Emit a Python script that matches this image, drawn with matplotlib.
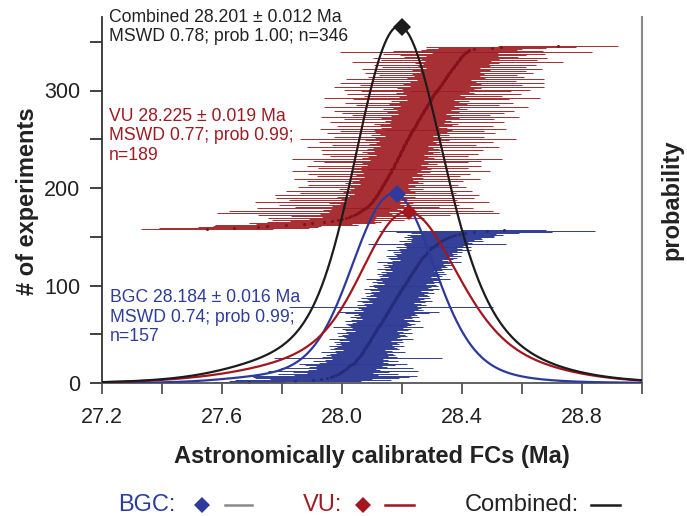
import numpy as np
import matplotlib
matplotlib.use("Agg")
import matplotlib.pyplot as plt

plt.rcParams['font.family'] = ['Liberation Sans', 'DejaVu Sans']

bgc_age = [27.690, 27.845, 27.902, 27.931, 27.950, 27.962, 27.971, 27.979, 27.986, 27.992,
           27.997, 28.002, 28.007, 28.012, 28.016, 28.020, 28.024, 28.028, 28.032, 28.036,
           28.039, 28.042, 28.045, 28.048, 28.051, 28.054, 28.057, 28.060, 28.062, 28.064,
           28.066, 28.069, 28.071, 28.073, 28.075, 28.077, 28.079, 28.081, 28.083, 28.086,
           28.088, 28.090, 28.092, 28.094, 28.096, 28.098, 28.100, 28.102, 28.104, 28.106,
           28.108, 28.110, 28.112, 28.114, 28.116, 28.118, 28.120, 28.122, 28.124, 28.126,
           28.128, 28.130, 28.132, 28.134, 28.136, 28.138, 28.140, 28.142, 28.144, 28.146,
           28.148, 28.150, 28.152, 28.154, 28.156, 28.158, 28.160, 28.162, 28.164, 28.166,
           28.168, 28.170, 28.172, 28.174, 28.176, 28.178, 28.180, 28.183, 28.185, 28.187,
           28.189, 28.191, 28.193, 28.195, 28.197, 28.199, 28.201, 28.203, 28.205, 28.207,
           28.209, 28.211, 28.213, 28.215, 28.217, 28.219, 28.221, 28.223, 28.225, 28.227,
           28.229, 28.231, 28.233, 28.236, 28.238, 28.240, 28.242, 28.244, 28.246, 28.249,
           28.251, 28.253, 28.256, 28.258, 28.260, 28.263, 28.265, 28.268, 28.270, 28.273,
           28.276, 28.279, 28.282, 28.285, 28.288, 28.291, 28.294, 28.297, 28.300, 28.304,
           28.308, 28.312, 28.316, 28.320, 28.325, 28.330, 28.336, 28.342, 28.349, 28.357,
           28.366, 28.377, 28.390, 28.410, 28.440, 28.482, 28.540]
bgc_err = [0.12, 0.22, 0.26, 0.17, 0.24, 0.26, 0.28, 0.14, 0.20, 0.11,
           0.16, 0.25, 0.12, 0.10, 0.22, 0.13, 0.11, 0.15, 0.09, 0.18,
           0.115, 0.095, 0.14, 0.105, 0.085, 0.28, 0.125, 0.095, 0.115, 0.105,
           0.085, 0.14, 0.095, 0.07, 0.115, 0.105, 0.095, 0.125, 0.085, 0.105,
           0.095, 0.115, 0.07, 0.105, 0.14, 0.085, 0.095, 0.115, 0.105, 0.085,
           0.125, 0.095, 0.07, 0.105, 0.115, 0.085, 0.15, 0.095, 0.105, 0.085,
           0.115, 0.095, 0.085, 0.125, 0.105, 0.07, 0.095, 0.115, 0.085, 0.105,
           0.095, 0.14, 0.17, 0.085, 0.115, 0.095, 0.105, 0.34, 0.085, 0.115,
           0.095, 0.07, 0.105, 0.125, 0.085, 0.095, 0.115, 0.07, 0.105, 0.095,
           0.085, 0.115, 0.095, 0.07, 0.105, 0.125, 0.085, 0.095, 0.115, 0.085,
           0.105, 0.07, 0.095, 0.115, 0.085, 0.105, 0.14, 0.095, 0.07, 0.105,
           0.095, 0.115, 0.085, 0.105, 0.07, 0.095, 0.125, 0.085, 0.105, 0.095,
           0.115, 0.085, 0.105, 0.14, 0.095, 0.07, 0.105, 0.115, 0.085, 0.125,
           0.095, 0.105, 0.085, 0.115, 0.095, 0.14, 0.105, 0.085, 0.115, 0.125,
           0.095, 0.105, 0.23, 0.115, 0.095, 0.14, 0.105, 0.125, 0.115, 0.15,
           0.14, 0.16, 0.125, 0.18, 0.26, 0.36, 0.14]

vu_age = [27.550, 27.640, 27.720, 27.750, 27.815, 27.875, 27.900, 27.940, 27.968, 27.988,
          28.000, 28.012, 28.022, 28.031, 28.039, 28.046, 28.052, 28.058, 28.063, 28.068,
          28.072, 28.076, 28.080, 28.084, 28.087, 28.090, 28.093, 28.096, 28.099, 28.102,
          28.105, 28.108, 28.110, 28.112, 28.115, 28.117, 28.119, 28.121, 28.123, 28.125,
          28.127, 28.129, 28.131, 28.133, 28.135, 28.137, 28.139, 28.141, 28.143, 28.145,
          28.147, 28.149, 28.151, 28.153, 28.155, 28.156, 28.158, 28.160, 28.162, 28.163,
          28.165, 28.167, 28.168, 28.170, 28.172, 28.173, 28.175, 28.177, 28.178, 28.180,
          28.182, 28.183, 28.185, 28.187, 28.188, 28.190, 28.192, 28.193, 28.195, 28.197,
          28.198, 28.200, 28.202, 28.203, 28.205, 28.207, 28.208, 28.210, 28.212, 28.214,
          28.215, 28.217, 28.219, 28.221, 28.222, 28.224, 28.226, 28.228, 28.229, 28.231,
          28.233, 28.235, 28.237, 28.238, 28.240, 28.242, 28.244, 28.246, 28.247, 28.249,
          28.251, 28.253, 28.255, 28.257, 28.259, 28.261, 28.263, 28.265, 28.267, 28.269,
          28.271, 28.273, 28.275, 28.277, 28.279, 28.281, 28.283, 28.285, 28.287, 28.289,
          28.291, 28.293, 28.295, 28.297, 28.299, 28.301, 28.303, 28.305, 28.308, 28.310,
          28.312, 28.314, 28.316, 28.318, 28.321, 28.323, 28.325, 28.327, 28.330, 28.332,
          28.334, 28.336, 28.339, 28.341, 28.343, 28.346, 28.348, 28.350, 28.353, 28.355,
          28.357, 28.360, 28.362, 28.365, 28.367, 28.370, 28.372, 28.375, 28.377, 28.380,
          28.382, 28.385, 28.387, 28.390, 28.392, 28.395, 28.397, 28.400, 28.403, 28.406,
          28.409, 28.412, 28.416, 28.420, 28.425, 28.440, 28.500, 28.530, 28.720]
vu_err = [0.22, 0.25, 0.20, 0.18, 0.24, 0.16, 0.21, 0.19, 0.14, 0.22,
          0.11, 0.26, 0.09, 0.20, 0.32, 0.12, 0.47, 0.10, 0.44, 0.13,
          0.11, 0.36, 0.08, 0.24, 0.12, 0.30, 0.10, 0.14, 0.39, 0.09,
          0.28, 0.11, 0.33, 0.13, 0.09, 0.34, 0.08, 0.26, 0.12, 0.31,
          0.10, 0.14, 0.09, 0.28, 0.11, 0.25, 0.08, 0.13, 0.11, 0.26,
          0.09, 0.31, 0.12, 0.08, 0.24, 0.11, 0.27, 0.09, 0.13, 0.33,
          0.10, 0.13, 0.08, 0.25, 0.11, 0.29, 0.09, 0.14, 0.11, 0.24,
          0.28, 0.09, 0.35, 0.12, 0.10, 0.23, 0.08, 0.26, 0.11, 0.13,
          0.09, 0.27, 0.12, 0.10, 0.32, 0.08, 0.24, 0.12, 0.10, 0.29,
          0.09, 0.14, 0.36, 0.11, 0.25, 0.08, 0.13, 0.10, 0.28, 0.12,
          0.24, 0.09, 0.13, 0.31, 0.11, 0.08, 0.26, 0.12, 0.14, 0.09,
          0.29, 0.11, 0.09, 0.25, 0.13, 0.33, 0.10, 0.23, 0.08, 0.27,
          0.12, 0.30, 0.09, 0.14, 0.11, 0.34, 0.09, 0.24, 0.13, 0.28,
          0.10, 0.13, 0.08, 0.26, 0.36, 0.11, 0.23, 0.09, 0.29, 0.13,
          0.11, 0.25, 0.09, 0.31, 0.12, 0.14, 0.35, 0.10, 0.27, 0.13,
          0.34, 0.11, 0.24, 0.09, 0.33, 0.13, 0.26, 0.11, 0.23, 0.12,
          0.28, 0.10, 0.25, 0.13, 0.30, 0.09, 0.24, 0.12, 0.27, 0.11,
          0.14, 0.35, 0.11, 0.26, 0.13, 0.29, 0.19, 0.12, 0.21, 0.27,
          0.11, 0.42, 0.17, 0.25, 0.16, 0.16, 0.18, 0.25, 0.20]

# weighted means from the panel texts
labs = ['BGC', 'VU', 'Combined']
mean_age = [28.184, 28.225, 28.201]
mean_err = [0.016, 0.019, 0.012]
mswd = [0.74, 0.77, 0.78]
prob = [0.99, 0.99, 1.00]
n_exp = [157, 189, 346]

x_ticks = [27.2, 27.4, 27.6, 27.8, 28.0, 28.2, 28.4, 28.6, 28.8, 29.0]
x_ticklabels = ['27.2', '', '27.6', '', '28.0', '', '28.4', '', '28.8', '']
y_ticks = [0, 50, 100, 150, 200, 250, 300, 350]
y_ticklabels = ['0', '', '100', '', '200', '', '300', '']

BLUE = '#2e3b94'
BLUE_DOT = '#232d7c'
RED = '#9e1b21'
RED_DOT = '#85121a'
BLACK = '#1c1c1c'

W, H = 687, 516


def fx(px):
    return px / W


def fy(py):
    return 1 - py / H


def pdf(ages, errs, x):
    a = np.asarray(ages)[:, None]
    s = np.asarray(errs)[:, None]
    return (np.exp(-0.5 * ((x - a) / s) ** 2) / (s * np.sqrt(2 * np.pi))).sum(axis=0)


fig = plt.figure(figsize=(W / 100, H / 100), dpi=100)
ax = fig.add_axes([fx(102), fy(383), fx(540), 366 / H])

# ranked single experiments
rank_bgc = np.arange(1, len(bgc_age) + 1)
rank_vu = np.arange(len(bgc_age) + 1, len(bgc_age) + len(vu_age) + 1)
ba, be = np.array(bgc_age), np.array(bgc_err)
va, ve = np.array(vu_age), np.array(vu_err)
ax.hlines(rank_bgc, ba - be, ba + be, color=BLUE, lw=0.7)
ax.hlines(rank_vu, va - ve, va + ve, color=RED, lw=0.65)
ax.plot(ba, rank_bgc, 'o', ms=2.2, color=BLUE_DOT, mew=0)
ax.plot(va, rank_vu, 'o', ms=2.2, color=RED_DOT, mew=0)

ax.set_xlim(27.2, 29.0)
ax.set_ylim(0, 366 / 0.975)
ax.set_xticks(x_ticks)
ax.set_xticklabels(x_ticklabels)
ax.set_yticks(y_ticks)
ax.set_yticklabels(y_ticklabels)
ax.tick_params(axis='y', direction='out', length=8.5, width=1.3, color='#333333',
               pad=7, labelsize=15.5, labelcolor='#222222')
ax.tick_params(axis='x', direction='out', length=8, width=1.3, color='#555555',
               pad=9, labelsize=15.5, labelcolor='#222222')
ax.spines['top'].set_visible(False)
ax.spines['left'].set_color('#333333')
ax.spines['left'].set_linewidth(1.3)
ax.spines['bottom'].set_color('#555555')
ax.spines['bottom'].set_linewidth(1.3)
ax.spines['right'].set_color('#8a8a8a')
ax.spines['right'].set_linewidth(1.5)

# probability density curves
ax2 = ax.twinx()
xs = np.linspace(27.2, 29.0, 900)
p_bgc = pdf(bgc_age, bgc_err, xs)
p_vu = pdf(vu_age, vu_err, xs)
p_all = p_bgc + p_vu
ax2.plot(xs, p_bgc, color='#2b3a9e', lw=1.6)
ax2.plot(xs, p_vu, color='#a3161d', lw=1.6)
ax2.plot(xs, p_all, color=BLACK, lw=1.6)
for m, p, c, s in zip(mean_age, [p_bgc, p_vu, p_all], ['#2e3b9c', '#a3161d', BLACK], [9, 8, 9]):
    ax2.plot([m], [np.interp(m, xs, p)], 'D', ms=s, color=c, mew=0)
ax2.set_ylim(0, p_all.max() / 0.975)
ax2.set_yticks([])
for sp in ax2.spines.values():
    sp.set_visible(False)

# panel texts
fs = 12.7
fig.text(fx(109), fy(27), '%s %.3f ± %.3f Ma\nMSWD %.2f; prob %.2f; n=%d'
         % (labs[2], mean_age[2], mean_err[2], mswd[2], prob[2], n_exp[2]),
         fontsize=fs, color='#222222', va='center', ha='left', linespacing=1.2)
fig.text(fx(109), fy(136), '%s %.3f ± %.3f Ma\nMSWD %.2f; prob %.2f;\nn=%d'
         % (labs[1], mean_age[1], mean_err[1], mswd[1], prob[1], n_exp[1]),
         fontsize=fs, color=RED, va='center', ha='left', linespacing=1.2)
fig.text(fx(110), fy(317), '%s %.3f ± %.3f Ma\nMSWD %.2f; prob %.2f;\nn=%d'
         % (labs[0], mean_age[0], mean_err[0], mswd[0], prob[0], n_exp[0]),
         fontsize=fs, color='#2e3d98', va='center', ha='left', linespacing=1.2)

# axis titles
fig.text(fx(372), fy(457), 'Astronomically calibrated FCs (Ma)', fontsize=17,
         fontweight='bold', color='#222222', ha='center', va='center')
fig.text(fx(28), fy(201), '# of experiments', fontsize=17, fontweight='bold',
         color='#222222', ha='center', va='center', rotation=90)
fig.text(fx(672), fy(200), 'probability', fontsize=17, fontweight='bold',
         color='#222222', ha='center', va='center', rotation=90)

# legend row under the plot
lg = fig.add_axes([0, 0, 1, 1])
lg.set_xlim(0, W)
lg.set_ylim(H, 0)
lg.axis('off')
lg.patch.set_alpha(0)
yl = 505
lg.text(118, yl, 'BGC:', fontsize=17, color='#2e3d98', va='center', ha='left')
lg.plot([202], [yl], 'D', ms=8, color='#2e3b9c', mew=0)
lg.plot([225, 252], [yl, yl], color='#8a8a8a', lw=1.8)
lg.text(303, yl, 'VU:', fontsize=17, color=RED, va='center', ha='left')
lg.plot([363], [yl], 'D', ms=8, color='#a3161d', mew=0)
lg.plot([385, 414], [yl, yl], color='#a3161d', lw=1.8)
lg.text(465, yl, 'Combined:', fontsize=17, color='#222222', va='center', ha='left')
lg.plot([591, 620], [yl, yl], color=BLACK, lw=1.8)

fig.savefig('out.png', dpi=100)
